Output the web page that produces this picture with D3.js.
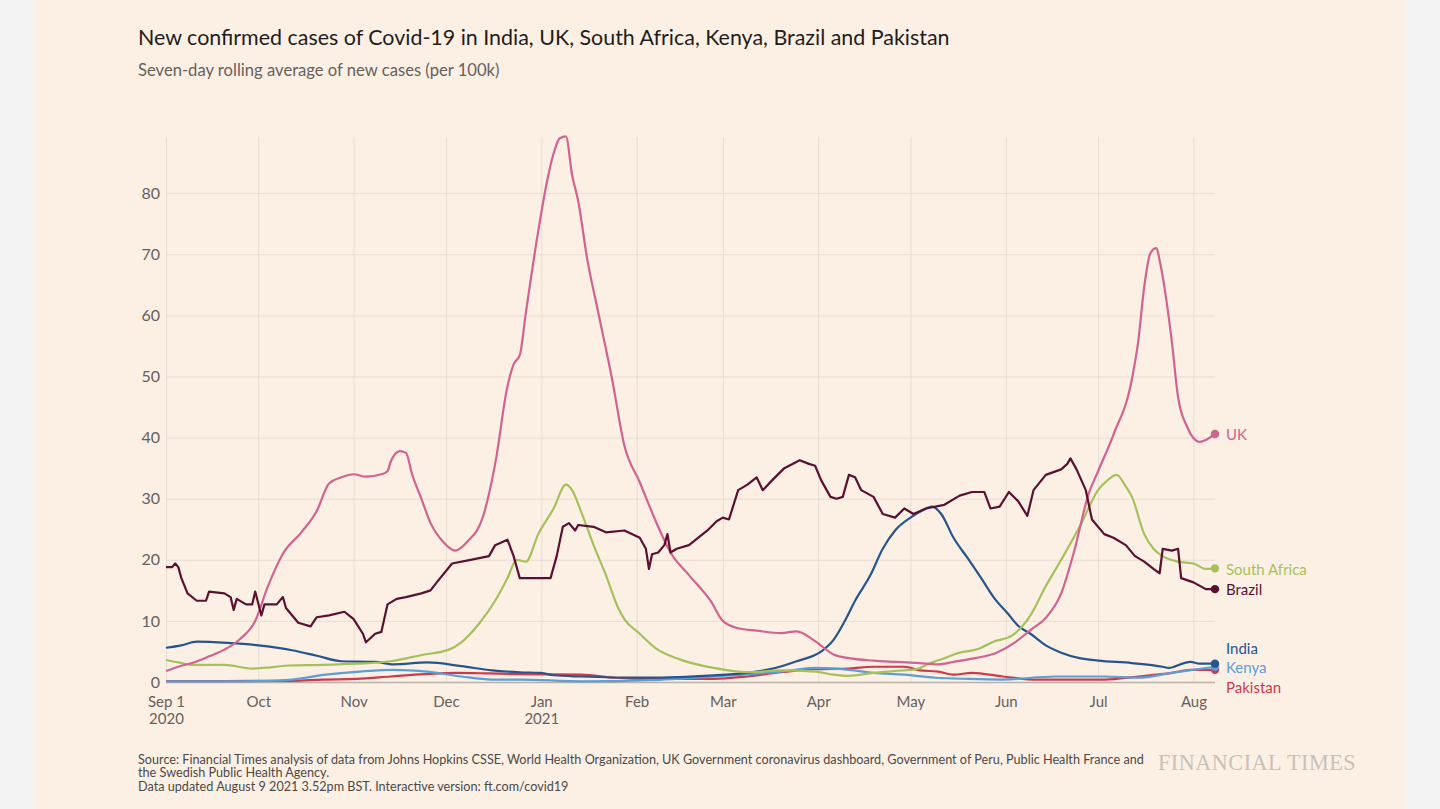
<!DOCTYPE html>
<html><head><meta charset="utf-8">
<script src="https://cdn.jsdelivr.net/npm/d3@7"></script>
<style>
html,body{margin:0;padding:0;background:#f3f3f3;}
svg{display:block;}
</style></head><body>
<svg id="chart" width="1440" height="809"></svg>
<script>
// ---------- DATA (seven-day rolling average of new cases per 100k) ----------
const ukValues = [
 ["2020-09-01",1.8],["2020-09-05",2.5],["2020-09-10",3.2],["2020-09-15",4.2],["2020-09-20",5.3],
 ["2020-09-25",7.0],["2020-09-30",10.0],["2020-10-04",15.5],["2020-10-09",21],["2020-10-15",24.5],
 ["2020-10-20",28],["2020-10-24",32.5],["2020-10-28",33.5],["2020-11-01",34],["2020-11-05",33.6],
 ["2020-11-10",34],["2020-11-12",34.5],["2020-11-13",36],["2020-11-16",37.8],["2020-11-18",37.5],
 ["2020-11-20",34],["2020-11-23",30],["2020-11-26",26],["2020-11-30",23],["2020-12-04",21.5],
 ["2020-12-08",23],["2020-12-13",27],["2020-12-17",35.7],["2020-12-21",48.4],["2020-12-23",52],
 ["2020-12-25",53.5],["2020-12-27",60.5],["2020-12-31",73.8],["2021-01-03",82.3],["2021-01-05",86.5],
 ["2021-01-07",89],["2021-01-09",89.3],["2021-01-11",83],["2021-01-13",78.7],["2021-01-16",69],
 ["2021-01-19",61.7],["2021-01-24",49.6],["2021-01-28",38.7],["2021-02-02",32.7],["2021-02-08",25.4],
 ["2021-02-12",21.2],["2021-02-18",17.5],["2021-02-25",13.3],["2021-03-01",10],["2021-03-06",8.8],
 ["2021-03-12",8.4],["2021-03-20",8.0],["2021-03-25",8.3],["2021-03-31",6.7],["2021-04-06",4.5],
 ["2021-04-11",3.9],["2021-04-19",3.5],["2021-04-26",3.3],["2021-05-04",3.1],["2021-05-10",2.9],
 ["2021-05-15",3.3],["2021-05-22",3.9],["2021-05-29",4.8],["2021-06-04",6.5],["2021-06-09",8.5],
 ["2021-06-14",10.5],["2021-06-19",14.5],["2021-06-23",21],["2021-06-28",30.9],["2021-07-01",34.5],
 ["2021-07-06",40.5],["2021-07-12",49.6],["2021-07-14",55.6],["2021-07-16",64.7],["2021-07-18",70.2],
 ["2021-07-20",71],["2021-07-21",69],["2021-07-25",55.6],["2021-07-27",46.6],["2021-07-30",41.7],
 ["2021-08-03",39.3],["2021-08-05",39.6],["2021-08-08",40.6]
];
const southAfricaValues = [
 ["2020-09-01",3.6],["2020-09-05",3.2],["2020-09-10",2.8],["2020-09-20",2.8],["2020-09-29",2.2],
 ["2020-10-05",2.4],["2020-10-11",2.7],["2020-10-22",2.8],["2020-11-02",3.0],["2020-11-13",3.4],
 ["2020-11-24",4.5],["2020-12-02",5.3],["2020-12-06",6.5],["2020-12-12",9.7],["2020-12-17",13.3],
 ["2020-12-21",17],["2020-12-24",20],["2020-12-27",19.7],["2020-12-31",24.2],["2021-01-05",28.4],
 ["2021-01-09",32.3],["2021-01-11",31.4],["2021-01-14",27.8],["2021-01-18",22.4],["2021-01-22",17.5],
 ["2021-01-26",12.1],["2021-01-28",10.3],["2021-02-02",7.9],["2021-02-07",5.6],["2021-02-15",3.7],
 ["2021-02-26",2.3],["2021-03-09",1.6],["2021-03-20",1.9],["2021-03-31",1.7],["2021-04-06",1.2],
 ["2021-04-11",1.0],["2021-04-19",1.5],["2021-04-26",1.8],["2021-05-03",2.1],["2021-05-07",3.0],
 ["2021-05-12",3.9],["2021-05-17",4.8],["2021-05-23",5.4],["2021-05-28",6.6],["2021-06-03",7.6],
 ["2021-06-09",10.9],["2021-06-14",15.7],["2021-06-19",20],["2021-06-25",25.4],["2021-07-01",31.4],
 ["2021-07-04",33],["2021-07-07",33.9],["2021-07-10",32],["2021-07-12",30.3],["2021-07-16",24.2],
 ["2021-07-19",21.8],["2021-07-22",20.6],["2021-07-27",19.7],["2021-08-01",19.4],["2021-08-05",18.5],
 ["2021-08-08",18.6]
];
const brazilValues = [
 ["2020-09-01",18.8],["2020-09-03",18.8],["2020-09-04",19.4],["2020-09-05",18.8],["2020-09-06",17],
 ["2020-09-08",14.5],["2020-09-11",13.3],["2020-09-14",13.3],["2020-09-15",14.8],["2020-09-20",14.5],
 ["2020-09-22",13.9],["2020-09-23",11.8],["2020-09-24",13.6],["2020-09-27",12.7],["2020-09-29",12.7],
 ["2020-09-30",14.8],["2020-10-02",10.9],["2020-10-03",12.7],["2020-10-07",12.7],["2020-10-09",13.9],
 ["2020-10-10",12.1],["2020-10-14",9.7],["2020-10-18",9.1],["2020-10-20",10.6],["2020-10-24",10.9],
 ["2020-10-29",11.5],["2020-11-01",10.3],["2020-11-04",7.9],["2020-11-05",6.5],["2020-11-08",7.9],
 ["2020-11-10",8.2],["2020-11-12",12.7],["2020-11-15",13.6],["2020-11-18",13.9],["2020-11-23",14.5],
 ["2020-11-26",15],["2020-11-28",16.3],["2020-12-03",19.4],["2020-12-09",20],["2020-12-15",20.6],
 ["2020-12-17",22.4],["2020-12-21",23.3],["2020-12-23",20.6],["2020-12-25",17],["2020-12-27",17],
 ["2020-12-31",17],["2021-01-04",17],["2021-01-06",20.6],["2021-01-08",25.4],["2021-01-10",26],
 ["2021-01-12",24.8],["2021-01-13",25.7],["2021-01-18",25.4],["2021-01-22",24.5],["2021-01-28",24.8],
 ["2021-02-02",23.6],["2021-02-04",21.8],["2021-02-05",18.5],["2021-02-06",20.9],["2021-02-08",21.2],
 ["2021-02-10",22.4],["2021-02-11",24.2],["2021-02-12",21.2],["2021-02-14",21.8],["2021-02-18",22.4],
 ["2021-02-24",24.8],["2021-02-27",26.3],["2021-03-01",26.9],["2021-03-03",26.6],["2021-03-06",31.4],
 ["2021-03-09",32.3],["2021-03-12",33.5],["2021-03-14",31.4],["2021-03-17",33],["2021-03-21",35],
 ["2021-03-26",36.3],["2021-03-29",35.7],["2021-03-31",35.4],["2021-04-02",33],["2021-04-05",30.3],
 ["2021-04-07",30],["2021-04-09",30.3],["2021-04-11",33.9],["2021-04-13",33.5],["2021-04-15",31.4],
 ["2021-04-19",30.3],["2021-04-22",27.5],["2021-04-26",26.9],["2021-04-29",28.4],["2021-05-02",27.5],
 ["2021-05-06",28.4],["2021-05-12",29],["2021-05-17",30.5],["2021-05-21",31.1],["2021-05-25",31.1],
 ["2021-05-27",28.4],["2021-05-30",28.7],["2021-06-02",31.1],["2021-06-05",29.6],["2021-06-08",27.2],
 ["2021-06-10",31.4],["2021-06-14",33.9],["2021-06-19",34.8],["2021-06-21",35.7],["2021-06-22",36.6],
 ["2021-06-24",34.8],["2021-06-27",31.4],["2021-06-29",26.6],["2021-07-03",24.2],["2021-07-06",23.6],
 ["2021-07-10",22.4],["2021-07-13",20.6],["2021-07-16",19.7],["2021-07-19",18.5],["2021-07-21",17.8],
 ["2021-07-22",21.8],["2021-07-25",21.5],["2021-07-27",21.8],["2021-07-28",17],["2021-08-01",16.3],
 ["2021-08-05",15.2],["2021-08-08",15.2]
];
const indiaValues = [
 ["2020-09-01",5.6],["2020-09-06",6.0],["2020-09-11",6.6],["2020-09-21",6.4],["2020-10-01",6.0],
 ["2020-10-12",5.2],["2020-10-20",4.3],["2020-10-28",3.4],["2020-11-08",3.3],["2020-11-14",2.9],
 ["2020-11-25",3.2],["2020-12-06",2.6],["2020-12-16",1.9],["2020-12-25",1.6],["2021-01-01",1.5],
 ["2021-01-05",1.1],["2021-01-14",0.9],["2021-02-05",0.7],["2021-02-26",1.1],["2021-03-09",1.5],
 ["2021-03-18",2.3],["2021-03-25",3.4],["2021-04-02",5],["2021-04-06",6.9],["2021-04-10",10.3],
 ["2021-04-13",13.3],["2021-04-18",17.5],["2021-04-22",21.8],["2021-04-26",24.8],["2021-05-01",26.9],
 ["2021-05-05",28.1],["2021-05-08",28.7],["2021-05-11",27.5],["2021-05-15",23.6],["2021-05-20",20],
 ["2021-05-24",17],["2021-05-28",13.9],["2021-06-02",11],["2021-06-05",9.2],["2021-06-09",7.9],
 ["2021-06-14",6],["2021-06-19",4.8],["2021-06-25",3.9],["2021-07-01",3.5],["2021-07-12",3.1],
 ["2021-07-22",2.5],["2021-07-24",2.3],["2021-07-29",3.1],["2021-07-31",3.3],["2021-08-03",3.0],
 ["2021-08-08",3.0]
];
const kenyaValues = [
 ["2020-09-01",0.1],["2020-09-20",0.1],["2020-10-05",0.2],["2020-10-12",0.4],["2020-10-23",1.2],
 ["2020-11-03",1.7],["2020-11-14",2.0],["2020-11-25",1.7],["2020-12-06",0.9],["2020-12-16",0.4],
 ["2020-12-25",0.4],["2021-01-14",0.1],["2021-02-05",0.3],["2021-02-26",0.9],["2021-03-20",1.7],
 ["2021-03-31",2.3],["2021-04-11",2.0],["2021-04-19",1.5],["2021-04-29",1.2],["2021-05-09",0.7],
 ["2021-05-20",0.5],["2021-05-31",0.4],["2021-06-17",0.9],["2021-07-03",0.9],["2021-07-14",0.7],
 ["2021-07-25",1.5],["2021-08-08",2.5]
];
const pakistanValues = [
 ["2020-09-01",0.15],["2020-09-20",0.15],["2020-10-12",0.2],["2020-10-22",0.4],["2020-11-02",0.5],
 ["2020-11-13",0.9],["2020-11-24",1.3],["2020-12-05",1.5],["2020-12-15",1.4],["2020-12-23",1.3],
 ["2021-01-14",1.2],["2021-01-25",0.7],["2021-02-05",0.5],["2021-02-26",0.5],["2021-03-09",0.9],
 ["2021-03-20",1.6],["2021-03-31",2.1],["2021-04-11",2.2],["2021-04-19",2.5],["2021-04-29",2.5],
 ["2021-05-04",1.9],["2021-05-10",1.7],["2021-05-15",1.2],["2021-05-21",1.5],["2021-05-31",0.9],
 ["2021-06-11",0.4],["2021-06-22",0.4],["2021-07-03",0.4],["2021-07-14",0.9],["2021-07-25",1.5],
 ["2021-07-31",2.0],["2021-08-08",2.0]
];
const seriesNames = ["Pakistan","Kenya","India","South Africa","UK","Brazil"];
const seriesColors = ["#cc3a4e","#5b9fd6","#27548c","#a5c15c","#d0638f","#5a1030"];
const seriesValues = [pakistanValues, kenyaValues, indiaValues, southAfricaValues, ukValues, brazilValues];
const yTicks = [0,10,20,30,40,50,60,70,80];
const xTickLabels = ["Sep 1","Oct","Nov","Dec","Jan","Feb","Mar","Apr","May","Jun","Jul","Aug"];
const xTickYears  = ["2020","","","","2021","","","","","","",""];

// ---------- CHART ----------
(function(){
const parse = d3.utcParse("%Y-%m-%d");
const svg = d3.select("#chart");
const H = 809;
const pLeft = 166, pRight = 1215, pTop = 137, pBottom = 682;

svg.append("rect").attr("x",34).attr("y",0).attr("width",1371).attr("height",H).attr("fill","#fcf0e5");

const x = d3.scaleUtc().domain([parse("2020-09-01"), parse("2021-08-08")]).range([pLeft, pRight]);
const y = d3.scaleLinear().domain([0, 89.2]).range([pBottom, pTop]);

const fontSans = "Lato, 'Open Sans', sans-serif";

function fit(sel, target){
  const w = sel.node().getComputedTextLength();
  const fs = parseFloat(sel.attr("font-size"));
  if (w > 0) sel.attr("font-size", (fs*target/w).toFixed(2));
}

// Title and subtitle
const title = svg.append("text").attr("x",138).attr("y",45).attr("font-family",fontSans)
  .attr("font-size",20).attr("fill","#1f1c1b")
  .text("New confirmed cases of Covid-19 in India, UK, South Africa, Kenya, Brazil and Pakistan");
fit(title, 812);
const sub = svg.append("text").attr("x",138).attr("y",76).attr("font-family",fontSans)
  .attr("font-size",13).attr("fill","#66605c")
  .text("Seven-day rolling average of new cases (per 100k)");
fit(sub, 362);

// Month ticks
const monthTicks = d3.utcMonth.range(parse("2020-09-01"), parse("2021-08-09"));

// Vertical grid + x labels
const xAxis = d3.axisBottom(x).tickValues(monthTicks)
  .tickSizeInner(-(pBottom-pTop)).tickSizeOuter(0).tickPadding(14)
  .tickFormat((d,i)=>xTickLabels[i]);
const gx = svg.append("g").attr("transform",`translate(0,${pBottom})`).call(xAxis);
gx.select(".domain").remove();
gx.selectAll(".tick line").attr("stroke","#e8ddd2").attr("stroke-width",1);
gx.selectAll(".tick text").attr("font-family",fontSans).attr("font-size",15).attr("fill","#66605c")
  .each(function(d,i){
    if (xTickYears[i]) {
      d3.select(this).append("tspan").attr("x",0).attr("dy","1.15em").text(xTickYears[i]);
    }
  });

// Horizontal grid + y labels
const yAxis = d3.axisLeft(y).tickValues(yTicks).tickSizeInner(-(pRight-pLeft)).tickSizeOuter(0).tickPadding(6);
const gy = svg.append("g").attr("transform",`translate(${pLeft},0)`).call(yAxis);
gy.select(".domain").remove();
gy.selectAll(".tick line").attr("stroke",d=>d===0?"#b9b0a7":"#e8ddd2").attr("stroke-width",d=>d===0?1.5:1);
gy.selectAll(".tick text").attr("font-family",fontSans).attr("font-size",16).attr("fill","#66605c");

// Lines
const smooth = d3.line().x(d=>x(parse(d[0]))).y(d=>y(d[1])).curve(d3.curveMonotoneX);
const jagged = d3.line().x(d=>x(parse(d[0]))).y(d=>y(d[1])).curve(d3.curveLinear);
const gLines = svg.append("g");
seriesValues.forEach((vals,i)=>{
  const gen = seriesNames[i]==="Brazil" ? jagged : smooth;
  gLines.append("path").datum(vals).attr("d",gen).attr("fill","none")
    .attr("stroke",seriesColors[i]).attr("stroke-width",2.2).attr("stroke-linejoin","round");
});
// End dots
seriesValues.forEach((vals,i)=>{
  const last = vals[vals.length-1];
  gLines.append("circle").attr("cx",x(parse(last[0]))).attr("cy",y(last[1])).attr("r",4.2)
    .attr("fill",seriesColors[i]);
});

// End labels with collision avoidance
const labels = seriesValues.map((vals,i)=>{
  const last = vals[vals.length-1];
  return {name:seriesNames[i], color:seriesColors[i], y:y(last[1]), x:x(parse(last[0]))};
}).sort((a,b)=>a.y-b.y);
const gap = 19.5;
for (let iter=0; iter<50; iter++){
  let moved=false;
  for (let i=1;i<labels.length;i++){
    const d = labels[i].y - labels[i-1].y;
    if (d < gap - 0.01){
      const shift=(gap-d)/2;
      labels[i].y += shift; labels[i-1].y -= shift; moved=true;
    }
  }
  if(!moved) break;
}
labels.forEach(l=>{
  svg.append("text").attr("x",l.x+11).attr("y",l.y).attr("dy","0.42em")
    .attr("font-family",fontSans).attr("font-size",15).attr("fill",l.color).text(l.name);
});

// Footer
const f1 = svg.append("text").attr("x",138).attr("y",764).attr("font-family",fontSans)
  .attr("font-size",10.5).attr("fill","#4d4845")
  .text("Source: Financial Times analysis of data from Johns Hopkins CSSE, World Health Organization, UK Government coronavirus dashboard, Government of Peru, Public Health France and");
fit(f1, 1007);
svg.append("text").attr("x",138).attr("y",777).attr("font-family",fontSans)
  .attr("font-size",f1.attr("font-size")).attr("fill","#4d4845")
  .text("the Swedish Public Health Agency.");
svg.append("text").attr("x",138).attr("y",791).attr("font-family",fontSans)
  .attr("font-size",f1.attr("font-size")).attr("fill","#4d4845")
  .text("Data updated August 9 2021 3.52pm BST. Interactive version: ft.com/covid19");
const ft = svg.append("text").attr("x",1158).attr("y",770).attr("font-family","'Liberation Serif', 'DejaVu Serif', serif")
  .attr("font-size",20).attr("fill","#c9c0b7").attr("letter-spacing",0.5).text("FINANCIAL TIMES");
fit(ft, 199);
})();
</script>
</body></html>
